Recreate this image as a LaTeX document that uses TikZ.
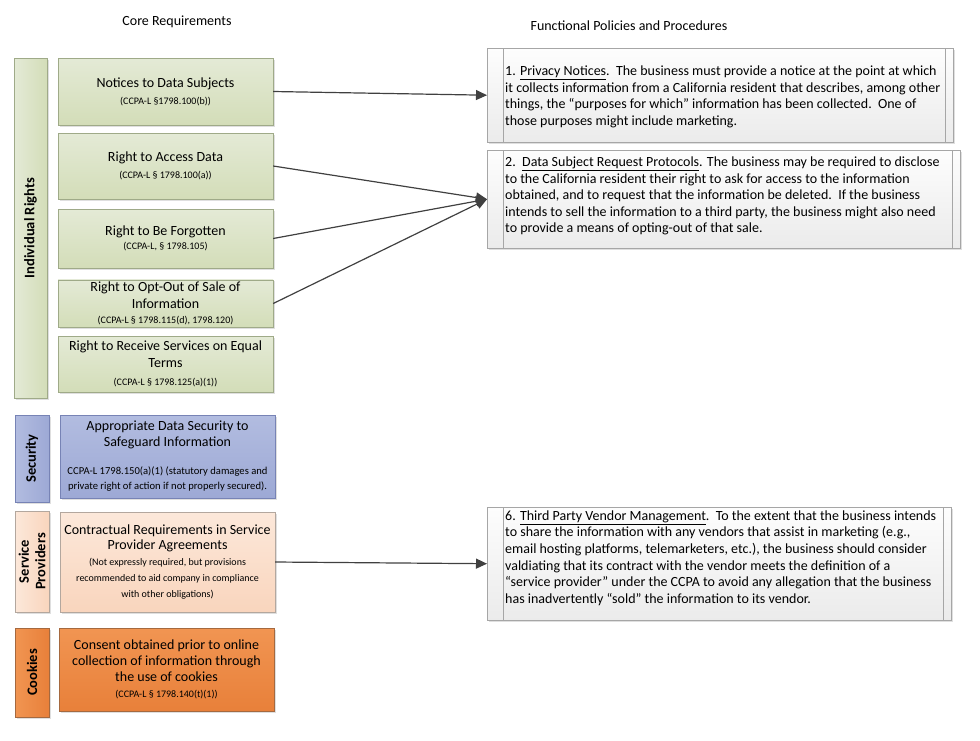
\documentclass[tikz,border=0pt]{standalone}
\usepackage{fontspec}
\setmainfont{Carlito}
\usetikzlibrary{arrows.meta,shadows}
\definecolor{irtop}{HTML}{E4EAD6}
\definecolor{irbot}{HTML}{D3DDB8}
\definecolor{irline}{HTML}{9FAA88}
\definecolor{sectop}{HTML}{B2BCE0}
\definecolor{secbot}{HTML}{9DA9D5}
\definecolor{secline}{HTML}{7783B5}
\definecolor{sptop}{HTML}{FCE8DA}
\definecolor{spbot}{HTML}{F9D5BD}
\definecolor{spline}{HTML}{B3A79E}
\definecolor{cktop}{HTML}{F19552}
\definecolor{ckbot}{HTML}{E8803A}
\definecolor{ckline}{HTML}{A5693F}
\definecolor{rtop}{HTML}{FDFDFD}
\definecolor{rbot}{HTML}{EBEBEB}
\definecolor{rline}{HTML}{A6A6A6}
\definecolor{arrcol}{HTML}{404040}
\newcommand{\bxttl}{\fontsize{14}{17}\selectfont}
\newcommand{\bxref}{\fontsize{10}{15}\selectfont}
\newcommand{\rtxt}{\fontsize{14}{16.6}\selectfont}
\begin{document}
\begin{tikzpicture}[x=1pt,y=-1pt,
	shade/.style={drop shadow={opacity=0.25,shadow xshift=1.5pt,shadow yshift=-1.5pt}},
	bar/.style={draw=#1line,shade,left color=#1top,right color=#1bot,inner sep=0pt},
	req/.style={draw=#1line,shade,top color=#1top,bottom color=#1bot,inner sep=2pt,align=center,
		minimum width=215pt,font=\bxttl},
	pol/.style={draw=rline,shade,top color=rtop,bottom color=rbot,inner sep=0pt,anchor=north west},
	poltext/.style={anchor=west,align=left,inner sep=0pt,font=\rtxt},
	sidetext/.style={rotate=90,align=center,font=\fontsize{14.5}{16.5}\selectfont\bfseries},
	arrow/.style={draw=arrcol,line width=1.2pt,-{Triangle[length=11pt,width=10pt]}}]
	\useasboundingbox (0,0) rectangle (980,740);
	% column heads
	\node (corehead) at (177,22) {\fontsize{14}{16}\selectfont Core Requirements};
	\node (polhead) at (629,26) {\fontsize{14}{16}\selectfont Functional Policies and Procedures};
	% side bars
	\node[bar=ir,minimum width=33pt,minimum height=340pt] (irbar) at (30.5,228) {};
	\node[sidetext] (irlab) at (irbar) {Individual Rights};
	\node[bar=sec,minimum width=34pt,minimum height=87pt] (secbar) at (32,458.5) {};
	\node[sidetext] (seclab) at (secbar) {Security};
	\node[bar=sp,minimum width=34pt,minimum height=101pt] (spbar) at (32,561.5) {};
	\node[sidetext] (splab) at (spbar) {Service\\Providers};
	\node[bar=ck,minimum width=34pt,minimum height=89pt] (ckbar) at (32,672.5) {};
	\node[sidetext] (cklab) at (ckbar) {Cookies};
	% core requirements
	\node[req=ir,minimum height=67pt] (notices) at (165.5,91.5)
		{Notices to Data Subjects\\ \bxref (CCPA-L §1798.100(b))};
	\node[req=ir,minimum height=66pt] (access) at (165.5,166)
		{Right to Access Data\\ \bxref (CCPA-L § 1798.100(a))};
	\node[req=ir,minimum height=59pt] (forgot) at (165.5,238.5)
		{Right to Be Forgotten\\[-3pt] \bxref (CCPA-L, § 1798.105)};
	\node[req=ir,minimum height=47pt] (optout) at (165.5,303.5)
		{Right to Opt-Out of Sale of\\ Information\\[-2pt] \bxref (CCPA-L § 1798.115(d), 1798.120)};
	\node[req=ir,minimum height=56pt] (equal) at (165.5,364)
		{Right to Receive Services on Equal\\ Terms\\[1pt] \bxref (CCPA-L § 1798.125(a)(1))};
	\node[req=sec,minimum height=83pt] (secbox) at (167.5,456.5)
		{Appropriate Data Security to\\[-1pt] Safeguard Information\\[11pt]
		\fontsize{10.6}{15}\selectfont CCPA-L 1798.150(a)(1) (statutory damages and\\[-2pt]
		\fontsize{10.6}{15}\selectfont private right of action if not properly secured).};
	\node[req=sp,minimum height=100pt] (spbox) at (167.5,562)
		{Contractual Requirements in Service\\[-2pt] Provider Agreements\\[-1pt]
		\bxref (Not expressly required, but provisions\\[-1pt] \bxref recommended to aid company in compliance\\[-1pt] \bxref with other obligations)};
	\node[req=ck,minimum height=83pt] (ckbox) at (166.5,669.5)
		{Consent obtained prior to online\\[-1pt] collection of information through\\[-1pt] the use of cookies\\[-1pt] \bxref (CCPA-L § 1798.140(t)(1))};
	% policies and procedures
	\node[pol,minimum width=466pt,minimum height=94pt] (privacy) at (487,48) {};
	\node[poltext] (privacytxt) at (505,97) {1. \underline{Privacy Notices}.\ \ The business must provide a notice at the point at which\\
		it collects information from a California resident that describes, among other\\
		things, the “purposes for which” information has been collected.\ \ One of\\
		those purposes might include marketing.};
	\node[pol,minimum width=473pt,minimum height=98pt] (dsr) at (487,150) {};
	\node[poltext] (dsrtxt) at (505,196) {2.\ \ \underline{Data Subject Request Protocols}. The business may be required to disclose\\
		to the California resident their right to ask for access to the information\\
		obtained, and to request that the information be deleted.\ \ If the business\\
		intends to sell the information to a third party, the business might also need\\
		to provide a means of opting-out of that sale.};
	\node[pol,minimum width=464pt,minimum height=113pt] (vendor) at (487,507) {};
	\node[poltext] (vendortxt) at (505,558) {6. \underline{Third Party Vendor Management}.\ \ To the extent that the business intends\\
		to share the information with any vendors that assist in marketing (e.g.,\\
		email hosting platforms, telemarketers, etc.), the business should consider\\
		valdiating that its contract with the vendor meets the definition of a\\
		“service provider” under the CCPA to avoid any allegation that the business\\
		has inadvertently “sold” the information to its vendor.};
	\foreach \p in {privacy,dsr,vendor}{
		\draw[rline] ([xshift=16pt]\p.north west) -- ([xshift=16pt]\p.south west);
		\draw[rline] ([xshift=-8pt]\p.north east) -- ([xshift=-8pt]\p.south east);
	}
	% connectors
	\draw[arrow] (notices.east) -- (privacy.west);
	\foreach \src in {access,forgot,optout}
	\draw[arrow] (\src.east) -- (dsr.west);
	\draw[arrow] (spbox.east) -- (vendor.west);
\end{tikzpicture}
\end{document}
